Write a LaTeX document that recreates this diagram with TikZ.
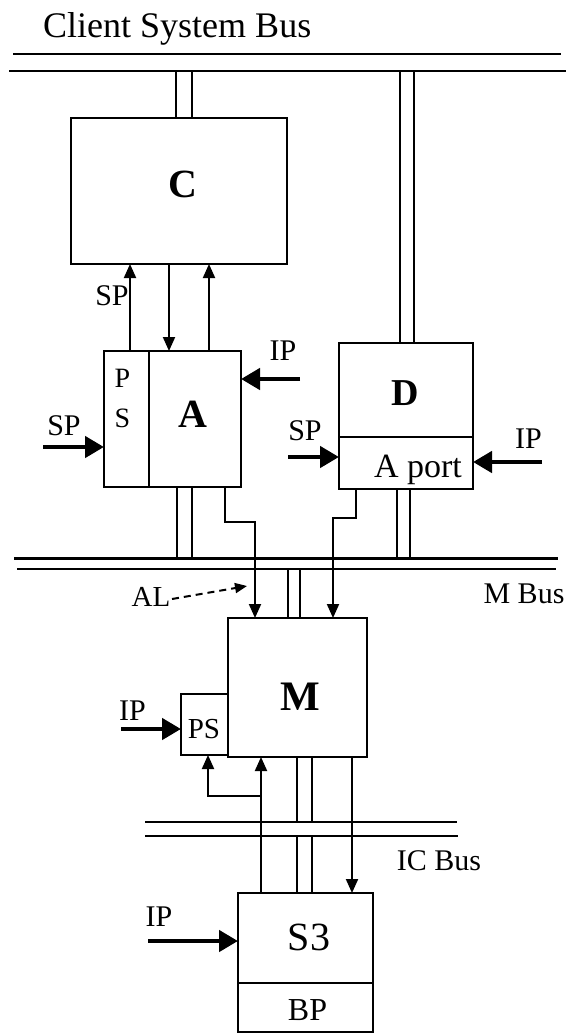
\documentclass[tikz,border=0pt]{standalone}
\usepackage{fontspec}
\setmainfont{Liberation Serif}
\usetikzlibrary{arrows.meta,calc}
\tikzset{
  box/.style={draw, rectangle, line width=2.4pt, inner sep=0pt, outer sep=0pt},
  bus/.style={line width=2.4pt},
  wire/.style={line width=2pt},
  tipthin/.style={-{Triangle[length=14pt,width=12pt]}},
  thickin/.style={line width=4.5pt, -{Triangle[length=19pt,width=21pt]}},
  lbl/.style={inner sep=0pt, anchor=base, font=\fontsize{30}{30}\selectfont},
  biglbl/.style={inner sep=0pt, anchor=base, font=\fontsize{40}{40}\selectfont\bfseries},
}
\begin{document}
\begin{tikzpicture}[x=1pt,y=-1pt]
\useasboundingbox (0,0) rectangle (566,1034);
% title
\node[inner sep=0pt, anchor=base west, font=\fontsize{36}{36}\selectfont] (title) at (43,37) {Client System Bus};
% bus coordinates
\coordinate (t1w) at (13,54);  \coordinate (t1e) at (561,54);
\coordinate (t2w) at (9,71);   \coordinate (t2e) at (566,71);
\coordinate (m1w) at (14,558.5); \coordinate (m1e) at (558,558.5);
\coordinate (m2w) at (17,569);   \coordinate (m2e) at (556,569);
\coordinate (i1w) at (145,822);  \coordinate (i1e) at (457,822);
\coordinate (i2w) at (145,836);  \coordinate (i2e) at (458,836);
\draw[bus] (t1w) -- (t1e);
\draw[bus] (t2w) -- (t2e);
\draw[bus] (m1w) -- (m1e);
\draw[bus] (m2w) -- (m2e);
\draw[bus] (i1w) -- (i1e);
\draw[bus] (i2w) -- (i2e);
% boxes
\node[box, minimum width=216, minimum height=146] (C) at (179,191) {};
\node[box, minimum width=45, minimum height=136] (PSa) at (126.5,419) {};
\node[box, minimum width=92, minimum height=136] (A) at (195,419) {};
\node[box, minimum width=134, minimum height=94] (D) at (406,390) {};
\node[box, minimum width=134, minimum height=52] (Aport) at (406,463) {};
\node[box, minimum width=139, minimum height=139] (M) at (297.5,687.5) {};
\node[box, minimum width=47, minimum height=61] (PSb) at (204.5,724.5) {};
\node[box, minimum width=135, minimum height=90] (S3) at (305.5,938) {};
\node[box, minimum width=135, minimum height=49] (BP) at (305.5,1007.5) {};
% box texts
\node[biglbl] (tC) at (183,197) {C};
\node[lbl, font=\fontsize{28}{28}\selectfont] (tP) at (122.5,387) {P};
\node[lbl, font=\fontsize{28}{28}\selectfont] (tS) at (122.5,427) {S};
\node[biglbl] (tA) at (192.5,427) {A};
\node[biglbl, font=\fontsize{38}{38}\selectfont\bfseries] (tD) at (405,405) {D};
\node[lbl, font=\fontsize{34}{34}\selectfont] (tAp) at (418,477) {A port};
\node[biglbl, font=\fontsize{42}{42}\selectfont\bfseries] (tM) at (300,710) {M};
\node[lbl, font=\fontsize{29}{29}\selectfont] (tPS) at (204,738) {PS};
\node[lbl, font=\fontsize{40}{40}\selectfont] (tS3) at (309,950) {S3};
\node[lbl, font=\fontsize{32}{32}\selectfont] (tBP) at (307.5,1020) {BP};
% bus labels
\node[lbl] (lM) at (524,603) {M Bus};
\node[lbl] (lIC) at (439,870) {IC Bus};
% bus connections (double lines)
\draw[wire] (176,0 |- t2w) -- (176,0 |- C.north);
\draw[wire] (192,0 |- t2w) -- (192,0 |- C.north);
\draw[wire] (400,0 |- t2w) -- (400,0 |- D.north);
\draw[wire] (414,0 |- t2w) -- (414,0 |- D.north);
\draw[wire] (177,0 |- A.south) -- (177,0 |- m1w);
\draw[wire] (192,0 |- A.south) -- (192,0 |- m1w);
\draw[wire] (397,0 |- Aport.south) -- (397,0 |- m1w);
\draw[wire] (410,0 |- Aport.south) -- (410,0 |- m1w);
\draw[wire] (288,0 |- m2w) -- (288,0 |- M.north);
\draw[wire] (300,0 |- m2w) -- (300,0 |- M.north);
\draw[wire] (297,0 |- M.south) -- (297,0 |- i1w);
\draw[wire] (311.5,0 |- M.south) -- (311.5,0 |- i1w);
\draw[wire] (297,0 |- i2w) -- (297,0 |- S3.north);
\draw[wire] (311.5,0 |- i2w) -- (311.5,0 |- S3.north);
% C <-> A/PS
\draw[wire, tipthin] (130,0 |- PSa.north) -- (130,0 |- C.south);
\draw[wire, tipthin] (169,0 |- C.south) -- (169,0 |- A.north);
\draw[wire, tipthin] (209,0 |- A.north) -- (209,0 |- C.south);
\node[lbl] (lSP1) at (112,305) {SP};
% A, D to M
\draw[wire, tipthin] (225,0 |- A.south) -- (225,522) -- (255,522) -- (255,0 |- M.north);
\draw[wire, tipthin] (356,0 |- Aport.south) -- (356,518) -- (333,518) -- (333,0 |- M.north);
% input arrows
\coordinate (ipA) at (300,379);
\draw[thickin] (ipA) -- (A.east |- ipA);
\node[lbl] (lIPA) at (283,360) {IP};
\coordinate (spA) at (43,447);
\draw[thickin] (spA) -- (PSa.west |- spA);
\node[lbl] (lSPA) at (64,435) {SP};
\coordinate (spD) at (288,457);
\draw[thickin] (spD) -- (Aport.west |- spD);
\node[lbl] (lSPD) at (305,440) {SP};
\coordinate (ipD) at (542,462);
\draw[thickin] (ipD) -- (Aport.east |- ipD);
\node[lbl] (lIPD) at (528.5,448) {IP};
\coordinate (ipM) at (121,729);
\draw[thickin] (ipM) -- (PSb.west |- ipM);
\node[lbl] (lIPM) at (132.5,720) {IP};
\coordinate (ipS) at (148,941);
\draw[thickin] (ipS) -- (S3.west |- ipS);
\node[lbl] (lIPS) at (159,926.7) {IP};
% AL
\node[lbl, font=\fontsize{29}{29}\selectfont] (lAL) at (151,606) {AL};
\coordinate (alend) at (247,586);
\draw[wire, dash pattern=on 7pt off 5pt, -{Triangle[length=12pt,width=10pt]}] (172,599) -- (alend);
% M <-> S3, PS
\coordinate (br) at (261,796);
\draw[wire, tipthin] (261,0 |- S3.north) -- (261,0 |- M.south);
\draw[wire, tipthin] (br) -- (208,796) -- (208,0 |- PSb.south);
\draw[wire, tipthin] (352,0 |- M.south) -- (352,0 |- S3.north);
\end{tikzpicture}
\end{document}
